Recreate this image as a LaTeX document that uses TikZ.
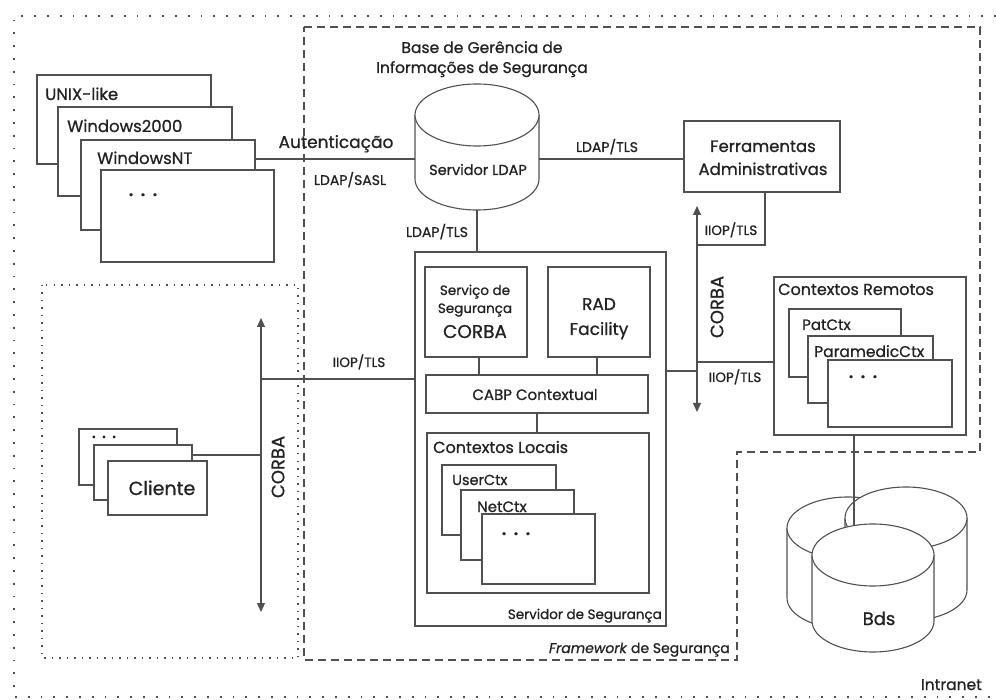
\documentclass[tikz,border=0pt]{standalone}
\usepackage{fontspec}
\setmainfont{Poppins}[FakeBold=0.8]
\usetikzlibrary{arrows.meta}
\definecolor{ink}{HTML}{222222}
\definecolor{lc}{HTML}{505050}
\newcommand{\fs}[1]{\fontsize{#1}{#1}\selectfont}
\newcommand{\dotsrow}{•\hspace{7pt}•\hspace{7pt}•}
\newcommand{\bx}[5]{\node[box, minimum width=#4pt, minimum height=#5pt] (#1) at (#2,#3) {};}
\newcommand{\cyl}[4]{%
  \draw[ln, fill=white] (#1-#4,#2) -- (#1-#4,#3) arc[start angle=180,end angle=0,x radius=#4,y radius=31] -- (#1+#4,#2);
  \draw[ln, fill=white] (#1,#2) ellipse[x radius=#4, y radius=31];}
\begin{document}
\begin{tikzpicture}[x=1pt,y=-1pt,
  ln/.style={draw=lc, line width=1.1pt},
  box/.style={ln, fill=white, rectangle, inner sep=0pt},
  t/.style={inner sep=0pt, text=ink},
  arr/.style={ln, {Triangle[width=8pt,length=9pt]}-{Triangle[width=8pt,length=9pt]}},
  outerdot/.style={draw=lc, line width=1.8pt, dash pattern=on 1.8pt off 11pt},
  clidot/.style={draw=lc, line width=1.5pt, dash pattern=on 1.5pt off 6pt},
  fwdash/.style={draw=lc, line width=1.1pt, dash pattern=on 8pt off 5pt}]
\useasboundingbox (0,0) rectangle (996,700);
\fill[white] (0,0) rectangle (996,700);

% frames
\draw[outerdot] (996,16) -- (14,16) -- (14,697) -- (996,697);
\draw[clidot] (42,285) rectangle (298,658);
\draw[fwdash] (304,27) -- (980,27) -- (980,452) -- (737,452) -- (737,660) -- (304,660) -- cycle;

% OS stack
\bx{unix}{124}{119.5}{174}{89}
\node[t, anchor=base west, font=\fs{16.5}] (lunix) at (45,100) {UNIX-like};
\bx{wtk}{145}{151.5}{174}{89}
\node[t, anchor=base west, font=\fs{16.5}] (lwtk) at (67,132) {Windows2000};
\bx{wnt}{168}{185}{174}{90}
\node[t, anchor=base west, font=\fs{16.5}] (lwnt) at (97,164) {WindowsNT};
\bx{osd}{187.5}{216}{173}{92}
\node[t, font=\fs{12}] (losd) at (143,196) {\dotsrow};

% LDAP server cylinder
\cyl{477}{115}{179}{62}
\node[t, anchor=base, font=\fs{14.5}] (ldap) at (478,175) {Servidor LDAP};
\coordinate (ldapW) at (415,159);
\coordinate (ldapE) at (539,159);
\coordinate (ldapS) at (477,210);
\node[t, anchor=base, font=\fs{15.5}] (bg1) at (482,53) {Base de Gerência de};
\node[t, anchor=base, font=\fs{15.5}] (bg2) at (482,73) {Informações de Segurança};

\draw[ln] (wnt.east |- ldapW) -- (ldapW);
\node[t, anchor=base, font=\fs{17}] (laut) at (336,148) {Autenticação};
\node[t, anchor=base, font=\fs{14}] (lsasl) at (350,185) {LDAP/SASL};

% Ferramentas
\bx{ferr}{762}{156.5}{156}{71}
\node[t, anchor=base, font=\fs{16.5}] (lf1) at (763,152) {Ferramentas};
\node[t, anchor=base, font=\fs{16.5}] (lf2) at (763,175) {Administrativas};
\draw[ln] (ldapE) -- (ferr.west |- ldapE);
\node[t, anchor=base, font=\fs{14}] (lltls1) at (607,152) {LDAP/TLS};

% Servidor de Seguranca
\bx{srv}{540.5}{439}{251}{374}
\node[t, anchor=base east, font=\fs{13.5}] (lsrv) at (662,619) {Servidor de Segurança};
\draw[ln] (ldapS) -- (srv.north -| ldapS);
\node[t, anchor=base, font=\fs{14}] (lltls2) at (437,237) {LDAP/TLS};

\bx{corba}{476}{312}{102}{90}
\node[t, anchor=base, font=\fs{13.5}] (lc1) at (475,295) {Serviço de};
\node[t, anchor=base, font=\fs{13.5}] (lc2) at (475,313) {Segurança};
\node[t, anchor=base, font=\fs{18.5}] (lc3) at (475,338) {CORBA};
\bx{rad}{599}{312}{102}{90}
\node[t, anchor=base, font=\fs{17}] (lr1) at (599,310) {RAD};
\node[t, anchor=base, font=\fs{17}] (lr2) at (599,335) {Facility};
\bx{cabp}{537}{394}{222}{38}
\node[t, anchor=base, font=\fs{15}] (lcabp) at (535,400) {CABP Contextual};
\draw[ln] (corba.south -| 479,0) -- (cabp.north -| 479,0);
\draw[ln] (rad.south -| 597,0) -- (cabp.north -| 597,0);

\bx{cloc}{538}{513}{222}{160}
\node[t, anchor=base west, font=\fs{16}] (lcloc) at (433,453) {Contextos Locais};
\draw[ln] (cabp.south) -- (cloc.north -| cabp.south);
\bx{user}{499}{500}{114}{70}
\node[t, anchor=base west, font=\fs{14.5}] (luser) at (452,485) {UserCtx};
\bx{net}{517.5}{525}{113}{70}
\node[t, anchor=base west, font=\fs{15}] (lnet) at (477,512) {NetCtx};
\bx{ldots}{538.5}{549}{113}{70}
\node[t, font=\fs{12}] (lldots) at (516,535) {\dotsrow};

% left CORBA bus and clients
\coordinate (busLt) at (261,318);
\coordinate (busLb) at (261,612);
\draw[arr] (busLt) -- (busLb);
\node[t, rotate=90, font=\fs{18}] (lcorbaL) at (278,467) {CORBA};
\coordinate (iiopL) at (261,379);
\draw[ln] (srv.west |- iiopL) -- (iiopL);
\node[t, anchor=base, font=\fs{13.5}] (liiop1) at (359,367) {IIOP/TLS};

\bx{c1}{128}{457}{98}{56}
\node[t, font=\fs{10}] (lcd) at (104,438) {•\hspace{6pt}•\hspace{6pt}•};
\bx{c2}{143}{472.5}{98}{55}
\bx{c3}{157.5}{488}{99}{54}
\node[t, anchor=base, font=\fs{19}] (lcli) at (162,495) {Cliente};
\coordinate (cliB) at (261,455);
\draw[ln] (c2.east |- cliB) -- (cliB);

% right CORBA bus
\coordinate (busRt) at (697,206);
\coordinate (busRb) at (697,412);
\draw[arr] (busRt) -- (busRb);
\coordinate (busRf) at (697,245);
\draw[ln] (ferr.south -| 765,0) |- (busRf);
\node[t, anchor=base, font=\fs{13.5}] (liiop2) at (731,235) {IIOP/TLS};
\node[t, rotate=90, font=\fs{18}] (lcorbaR) at (717,307) {CORBA};
\coordinate (busRs) at (697,371);
\draw[ln] (srv.east |- busRs) -- (busRs);

% Contextos Remotos
\bx{crem}{870}{356}{192}{158}
\node[t, anchor=base west, font=\fs{16}] (lcrem) at (778,295) {Contextos Remotos};
\bx{pat}{845}{343}{112}{68}
\node[t, anchor=base west, font=\fs{15}] (lpat) at (802,330) {PatCtx};
\bx{para}{870.5}{369.5}{125}{67}
\node[t, anchor=base west, font=\fs{15.5}] (lpara) at (814,357) {ParamedicCtx};
\bx{rdots}{890}{393.5}{124}{67}
\node[t, font=\fs{12}] (lrdots) at (863,378) {\dotsrow};
\coordinate (busRc) at (697,362);
\draw[ln] (busRc) -- (crem.west |- busRc);
\node[t, anchor=base, font=\fs{13.5}] (liiop3) at (735,382) {IIOP/TLS};

% Bds
\cyl{848}{528}{598}{61}
\cyl{906}{518}{590}{61}
\cyl{873}{555}{621}{61}
\node[t, anchor=base, font=\fs{18}] (lbds) at (879,625) {Bds};
\coordinate (bdsTop) at (854,526);
\draw[ln] (crem.south -| bdsTop) -- (bdsTop);

% frame labels
\node[t, anchor=base east, font=\fs{14}] (lfw) at (730,653) {\textit{Framework} de Segurança};
\node[t, anchor=base east, font=\fs{15.5}] (lintra) at (982,690) {Intranet};
\end{tikzpicture}
\end{document}
